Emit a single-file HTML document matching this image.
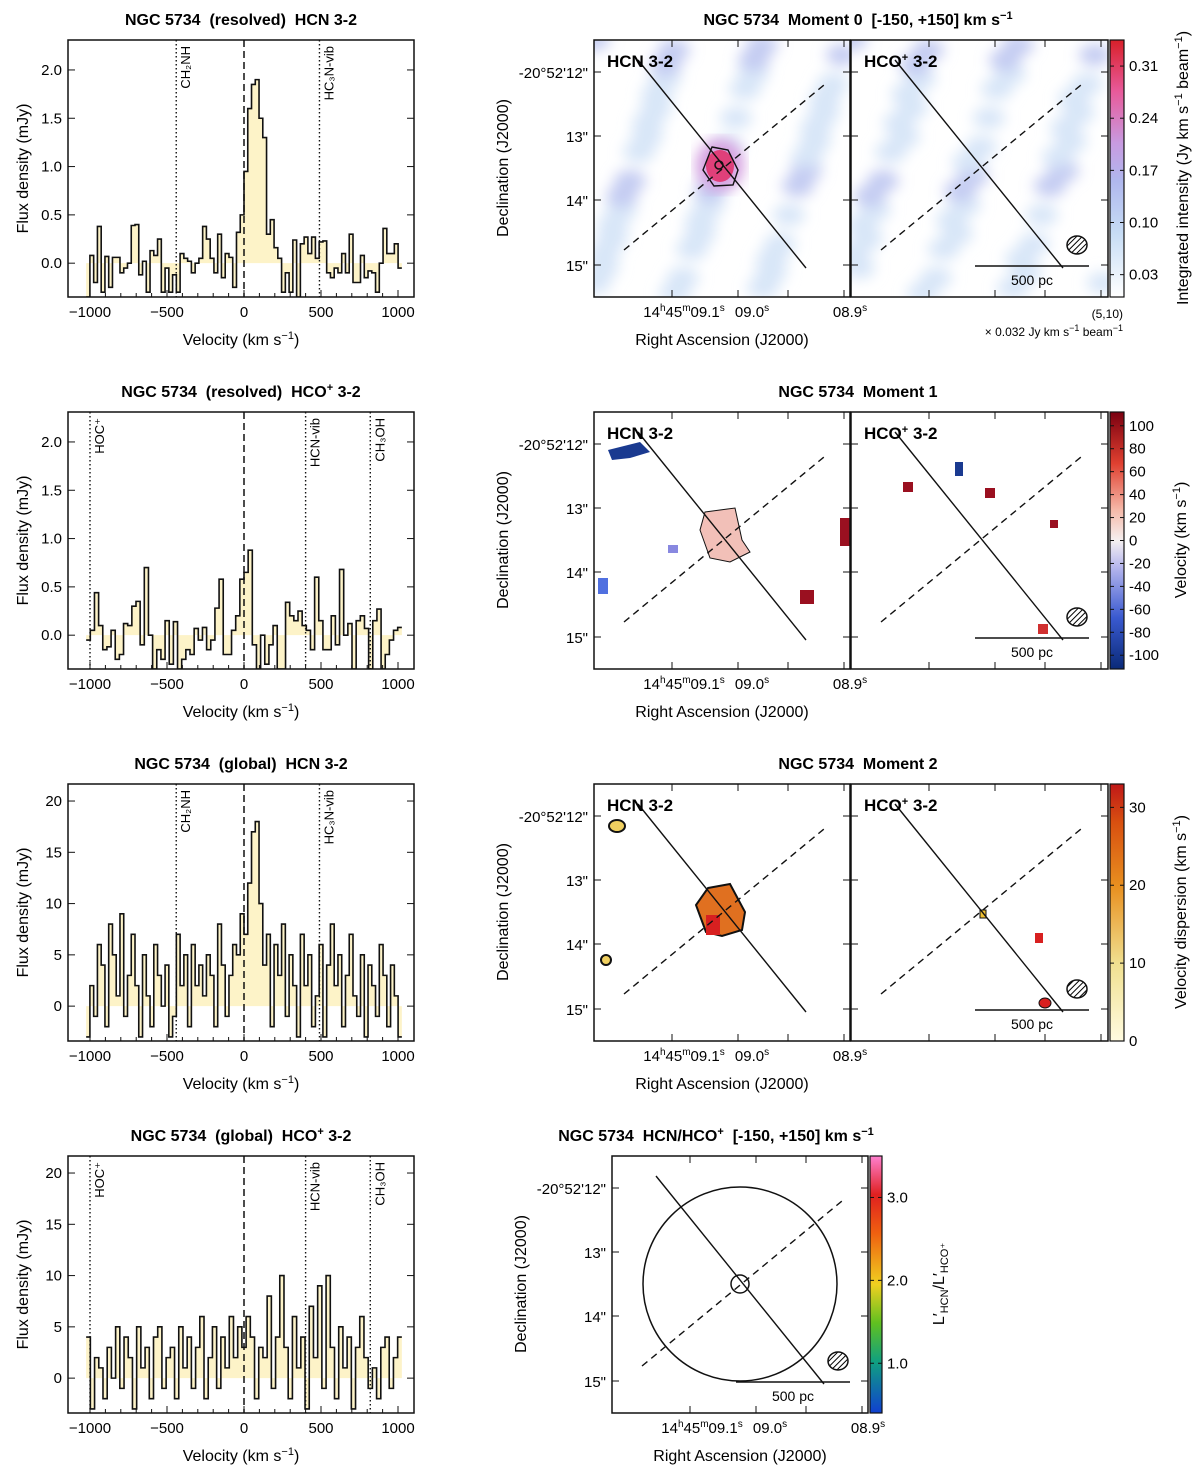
<!DOCTYPE html>
<html><head><meta charset="utf-8"><style>
body{margin:0;background:#fff}
svg{display:block;font-family:"Liberation Sans",sans-serif}
text{white-space:pre}
</style></head><body>
<svg id="fig" width="1200" height="1473" viewBox="0 0 1200 1473" xmlns="http://www.w3.org/2000/svg">
<defs>
<pattern id="hatch" width="4" height="4" patternUnits="userSpaceOnUse" patternTransform="rotate(45)"><rect width="4" height="4" fill="#fff"/><line x1="0" y1="0" x2="0" y2="4" stroke="#000" stroke-width="2"/></pattern>
<linearGradient id="g0" x1="0" y1="1" x2="0" y2="0"><stop offset="0" stop-color="#fff"/><stop offset="0.25" stop-color="#c6dcf5"/><stop offset="0.45" stop-color="#b0b8ee"/><stop offset="0.6" stop-color="#c89ae0"/><stop offset="0.8" stop-color="#e85a9a"/><stop offset="1" stop-color="#d8202a"/></linearGradient>
<linearGradient id="g1" x1="0" y1="1" x2="0" y2="0"><stop offset="0" stop-color="#0a2a78"/><stop offset="0.2" stop-color="#3a5ad0"/><stop offset="0.4" stop-color="#b8b8ee"/><stop offset="0.5" stop-color="#f5f0f0"/><stop offset="0.62" stop-color="#f5b8a8"/><stop offset="0.8" stop-color="#e04030"/><stop offset="1" stop-color="#7a0010"/></linearGradient>
<linearGradient id="g2" x1="0" y1="1" x2="0" y2="0"><stop offset="0" stop-color="#fffbe0"/><stop offset="0.3" stop-color="#f0e090"/><stop offset="0.6" stop-color="#e89020"/><stop offset="0.85" stop-color="#d85010"/><stop offset="1" stop-color="#c01818"/></linearGradient>
<linearGradient id="g3" x1="0" y1="1" x2="0" y2="0"><stop offset="0" stop-color="#1040d0"/><stop offset="0.2" stop-color="#10a080"/><stop offset="0.35" stop-color="#60c020"/><stop offset="0.5" stop-color="#f0d020"/><stop offset="0.7" stop-color="#f06010"/><stop offset="0.85" stop-color="#e02020"/><stop offset="1" stop-color="#ff80d0"/></linearGradient>
<filter id="blur"><feGaussianBlur stdDeviation="7"/></filter>
</defs>
</svg>
<script>
const specHCNres=[-0.35,0.08,-0.2,0.38,-0.3,0.07,-0.25,0.06,0.06,-0.1,-0.05,0.0,0.39,0.4,-0.12,0.02,-0.3,0.13,0.08,0.25,-0.3,-0.05,-0.3,-0.12,-0.3,0.1,0.05,0.02,-0.1,0.0,0.05,0.38,0.25,0.05,-0.1,0.3,-0.15,0.1,0.06,-0.25,0.32,0.5,0.95,1.6,1.85,1.9,1.5,1.3,0.3,0.45,0.16,0.05,-0.3,-0.1,-0.3,0.24,-0.35,0.2,0.27,0.1,0.27,0.05,0.22,0.23,-0.1,-0.15,-0.05,-0.1,0.1,-0.1,0.3,-0.2,-0.2,0.08,-0.15,-0.08,-0.1,-0.3,0.0,0.36,0.1,0.1,0.2,-0.05];
const specHCOres=[-0.05,0.05,0.44,0.1,-0.15,-0.12,0.05,-0.25,-0.2,0.12,0.1,0.3,0.35,-0.1,0.7,0.0,-0.35,-0.15,-0.25,0.15,-0.3,0.14,-0.35,-0.25,-0.15,-0.2,0.07,-0.05,0.08,-0.15,-0.05,0.28,0.58,-0.2,-0.2,0.05,0.2,0.58,0.65,0.88,-0.1,-0.35,0.0,-0.3,-0.1,0.1,-0.35,-0.35,0.34,0.2,0.15,0.25,0.1,0.05,-0.15,0.6,0.15,-0.15,-0.15,0.2,-0.1,0.68,0.0,0.12,-0.35,0.15,0.2,0.07,-0.35,0.15,0.27,-0.35,-0.2,-0.05,0.05,0.08];
const specHCNglob=[-3,2,-1,6,4,-2,8,5,1,9,-1,3,7,2,-3,5,1,-2,6,3,0,4,-3,-1,7,2,5,-2,6,2,4,1,5,3,-2,8,4,-1,3,6,5,9,7,12,17,18,10,4,7,-2,6,3,8,-1,5,2,-3,7,2,5,-2,1,6,-3,4,8,2,5,-2,3,7,1,-1,5,-3,4,2,-1,6,3,-2,4,1,-3];
const specHCOglob=[4,-3,2,1,-2,3,0,5,-1,4,2,-3,5,1,3,-2,4,5,-1,2,3,-2,5,1,4,-1,3,6,-2,2,5,-1,4,1,6,2,5,3,6,4,-2,3,2,8,-1,4,10,3,-2,6,1,4,-3,7,2,9,-1,10,3,-2,5,1,4,-3,3,6,2,-1,1,-2,3,4,-1,2,4];
const velTicks=[-1000,-500,0,500,1000];
const mapYTicks=["-20°52'12\"","13\"","14\"","15\""];
const mapXTicks=["14h45m09.1s","09.0s","08.9s"];
const cb0=[0.03,0.10,0.17,0.24,0.31];
const cb1=[100,80,60,40,20,0,-20,-40,-60,-80,-100];
const cb2=[0,10,20,30];
const cb3=[1.0,2.0,3.0];

const NS="http://www.w3.org/2000/svg";
const svg=document.getElementById('fig');
function E(tag,at,parent,txt){const e=document.createElementNS(NS,tag);for(const k in at)e.setAttribute(k,at[k]);if(txt!==undefined)e.textContent=txt;(parent||svg).appendChild(e);return e;}
const SUP=s=>`<tspan dy="-6" font-size="11">${s}</tspan>`;
const BACK=s=>`<tspan dy="6">${s}</tspan>`;

function spectrum(top,data,ymin,ymax,yticks,title,lines,name){
  const L=68,R=414,T=top,B=top+257;
  const g=E('g',{});
  
  
  const x=v=>90+(v+1000)*308/2000;
  const y=f=>B-(f-ymin)/(ymax-ymin)*(B-T);
  const v0=-1025,bw=2050/data.length;
  let pts=[];
  data.forEach((f,i)=>{pts.push([x(v0+i*bw),y(f)],[x(v0+(i+1)*bw),y(f)]);});
  let fill=`M${x(v0)},${y(0)} `+pts.map(p=>`L${p[0]},${p[1]}`).join(' ')+` L${x(v0+data.length*bw)},${y(0)}Z`;
  const cp=E('clipPath',{id:'c'+name},g);E('rect',{x:L,y:T,width:R-L,height:B-T},cp);
  const gc=E('g',{'clip-path':`url(#c${name})`},g);
  E('path',{d:fill,fill:'#fdf3c8',stroke:'none'},gc);
  E('path',{d:'M'+pts.map(p=>p.join(',')).join(' L'),fill:'none',stroke:'#111','stroke-width':1.6},gc);
  E('line',{x1:x(0),x2:x(0),y1:T,y2:B,stroke:'#111','stroke-width':1.5,'stroke-dasharray':'7,4'},g);
  lines.forEach(l=>{E('line',{x1:x(l[0]),x2:x(l[0]),y1:T,y2:B,stroke:'#111','stroke-width':1.4,'stroke-dasharray':'1.5,2.5'},g);
    E('text',{x:0,y:0,transform:`translate(${x(l[0])+14},${T+6}) rotate(-90)`,'font-size':13,'text-anchor':'end'},g,l[1]);});
  E('rect',{x:L,y:T,width:R-L,height:B-T,fill:'none',stroke:'#111','stroke-width':1.5},g);
  for(let v=-1000;v<=1000;v+=100){E('line',{x1:x(v),x2:x(v),y1:B,y2:B-(v%500==0?7:4),stroke:'#111'},g);}
  velTicks.forEach(v=>E('text',{x:x(v),y:B+20,'font-size':15,'text-anchor':'middle'},g,v<0?'\u2212'+(-v):v));
  yticks.forEach(t=>{E('line',{x1:L,x2:L+7,y1:y(t),y2:y(t),stroke:'#111'},g);E('line',{x1:R,x2:R-7,y1:y(t),y2:y(t),stroke:'#111'},g);
    E('text',{x:L-6,y:y(t)+5,'font-size':15,'text-anchor':'end'},g,t.toFixed(ymax>5?0:1));});
  const xl=E('text',{x:241,y:B+48,'font-size':16,'text-anchor':'middle'},g);xl.innerHTML='Velocity (km s'+SUP('−1')+BACK(')');
  E('text',{x:0,y:0,transform:`translate(28,${(T+B)/2}) rotate(-90)`,'font-size':16,'text-anchor':'middle'},g,'Flux density (mJy)');
  const tt=E('text',{x:241,y:T-15,'font-size':16,'font-weight':'bold','text-anchor':'middle'},g);tt.innerHTML=title;
}
spectrum(40,specHCNres,-0.35,2.31,[0,0.5,1,1.5,2],'NGC 5734  (resolved)  HCN 3-2',[[-440,'CH₂NH'],[490,'HC₃N-vib']],'spectrum-hcn-resolved');
spectrum(412,specHCOres,-0.35,2.31,[0,0.5,1,1.5,2],'NGC 5734  (resolved)  HCO'+SUP('+')+BACK(' 3-2'),[[-1000,'HOC⁺'],[400,'HCN-vib'],[820,'CH₃OH']],'spectrum-hco-resolved');
spectrum(784,specHCNglob,-3.4,21.66,[0,5,10,15,20],'NGC 5734  (global)  HCN 3-2',[[-440,'CH₂NH'],[490,'HC₃N-vib']],'spectrum-hcn-global');
spectrum(1156,specHCOglob,-3.4,21.66,[0,5,10,15,20],'NGC 5734  (global)  HCO'+SUP('+')+BACK(' 3-2'),[[-1000,'HOC⁺'],[400,'HCN-vib'],[820,'CH₃OH']],'spectrum-hco-global');

function xTickLabels(g,B,xs){
  const lab=[['14','h','45','m','09.1','s'],['09.0','s'],['08.9','s']];
  xs.forEach((xx,i)=>{const t=E('text',{x:xx,y:B+20,'font-size':15,'text-anchor':'middle'},g);
    const a=lab[i];let h='';
    for(let j=0;j<a.length;j+=2){h+=(j===0?a[j]:`<tspan dy="6">${a[j]}</tspan>`)+`<tspan dy="-6" font-size="10">${a[j+1]}</tspan>`;}
    t.innerHTML=h;});
}
function mapPanel(L,T,W,label,opts,name){
  const g=E('g',{});
  const cp=E('clipPath',{id:'c'+name},g);E('rect',{x:L,y:T,width:W,height:257},cp);
  const gc=E('g',{'clip-path':`url(#c${name})`},g);
  E('rect',{x:L,y:T,width:W,height:257,fill:'#fff'},gc);
  if(opts.bg){
    const gb=E('g',{filter:'url(#blur)'},gc);
    for(let i=0;i<46;i++){const px=L+((i*53)%W),py=T+((i*97)%257);E('ellipse',{cx:px,cy:py,rx:16,ry:11,fill:i%4==0?'#c4ccf2':'#d8e6f8'},gb);}
  }
  if(opts.draw)opts.draw(gc);
  const dx=L-594;
  E('line',{x1:638+dx,y1:60+T-40,x2:806+dx,y2:268+T-40,stroke:'#111','stroke-width':1.4},g);
  E('line',{x1:624+dx,y1:250+T-40,x2:824+dx,y2:85+T-40,stroke:'#111','stroke-width':1.4,'stroke-dasharray':'7,5'},g);
  E('rect',{x:L,y:T,width:W,height:257,fill:'none',stroke:'#111','stroke-width':1.5},g);
  [86,152,202,258].forEach(xx=>{E('line',{x1:L+xx-8,x2:L+xx-8,y1:T,y2:T+7,stroke:'#111'},g);E('line',{x1:L+xx-8,x2:L+xx-8,y1:T+257,y2:T+250,stroke:'#111'},g);});
  [32,96,160,225].forEach(yy=>{E('line',{x1:L,x2:L+7,y1:T+yy,y2:T+yy,stroke:'#111'},g);E('line',{x1:L+W,x2:L+W-7,y1:T+yy,y2:T+yy,stroke:'#111'},g);});
  if(label){const t=E('text',{x:L+13,y:T+27,'font-size':17,'font-weight':'bold'},g);t.innerHTML=label;}
  if(opts.beam){E('line',{x1:L+124,x2:L+238,y1:T+226,y2:T+226,stroke:'#111','stroke-width':1.5},g);
    E('text',{x:L+181,y:T+245,'font-size':14,'text-anchor':'middle'},g,'500 pc');
    E('ellipse',{cx:L+226,cy:T+205,rx:10,ry:9,fill:'url(#hatch)',stroke:'#111','stroke-width':1.5},g);}
  return g;
}
function axesLabels(T,xL,cxLabel){
  const g=E('g',{});
  mapYTicks.forEach((s,i)=>E('text',{x:xL-6,y:T+[32,96,160,225][i]+6,'font-size':15,'text-anchor':'end'},g,s));
  E('text',{x:0,y:0,transform:`translate(${xL-86},${T+128}) rotate(-90)`,'font-size':16,'text-anchor':'middle'},g,'Declination (J2000)');
  E('text',{x:cxLabel,y:T+305,'font-size':16,'text-anchor':'middle'},g,'Right Ascension (J2000)');
  xTickLabels(g,T+257,[xL+90,xL+158,xL+256]);
}
function colorbar(x,T,w,grad,ticks,vmin,vmax,label,name,fmt,off){
  const g=E('g',{});
  E('rect',{x:x,y:T,width:w,height:257,fill:`url(#${grad})`,stroke:'#111','stroke-width':1.2},g);
  ticks.forEach(t=>{const yy=T+257-(t-vmin)/(vmax-vmin)*257;E('line',{x1:x,x2:x+4,y1:yy,y2:yy,stroke:'#111'},g);E('line',{x1:x+w,x2:x+w-4,y1:yy,y2:yy,stroke:'#111'},g);
    E('text',{x:x+w+5,y:yy+5,'font-size':15},g,fmt(t));});
  const t=E('text',{x:0,y:0,transform:`translate(${x+w+off},${T+128}) rotate(-90)`,'font-size':16,'text-anchor':'middle'},g);t.innerHTML=label;
}
const HCO='HCO'+SUP('+')+BACK(' 3-2');
function title(x,y,html){const t=E('text',{x:x,y:y,'font-size':16,'font-weight':'bold','text-anchor':'middle'});t.innerHTML=html;}
// Moment 0
title(858,25,'NGC 5734  Moment 0  [-150, +150] km s'+SUP('−1'));
mapPanel(594,40,256,'HCN 3-2',{bg:1,draw:g=>{E('ellipse',{cx:720,cy:165,rx:24,ry:26,fill:'#d8a0e0',filter:'url(#blur)'},g);E('ellipse',{cx:720,cy:166,rx:14,ry:16,fill:'#e0407a'},g);E('path',{d:'M712,147 L728,150 L738,170 L733,185 L714,186 L703,170 Z',fill:'none',stroke:'#111','stroke-width':1.4},g);E('circle',{cx:719,cy:165,r:4,fill:'none',stroke:'#111','stroke-width':1.5},g);}},'moment0-hcn-map');
mapPanel(851,40,257,HCO,{bg:1,beam:1},'moment0-hco-map');
axesLabels(40,594,722);
colorbar(1110,40,14,'g0',cb0,0.0,0.345,'Integrated intensity (Jy km s'+SUP('−1')+BACK(' beam')+SUP('−1')+BACK(')'),'colorbar-moment0',t=>t.toFixed(2),64);
E('text',{x:1123,y:318,'font-size':12,'text-anchor':'end'},svg,'(5,10)');
{const t=E('text',{x:1123,y:336,'font-size':12,'text-anchor':'end'});t.innerHTML='× 0.032 Jy km s<tspan dy="-5" font-size="9">−1</tspan><tspan dy="5"> beam</tspan><tspan dy="-5" font-size="9">−1</tspan>';}
// Moment 1
title(858,397,'NGC 5734  Moment 1');
mapPanel(594,412,256,'HCN 3-2',{draw:g=>{E('path',{d:'M608,450 L640,442 L650,452 L630,458 L612,460 Z',fill:'#1a3a90'},g);E('path',{d:'M705,512 L735,508 L742,540 L750,552 L730,562 L710,558 L700,530 Z',fill:'#f2c0b8',stroke:'#111'},g);E('rect',{x:840,y:518,width:10,height:28,fill:'#9a1020'},g);E('rect',{x:800,y:590,width:14,height:14,fill:'#9a1020'},g);E('rect',{x:598,y:578,width:10,height:16,fill:'#5070e0'},g);E('rect',{x:668,y:545,width:10,height:8,fill:'#8888e0'},g);}},'moment1-hcn-map');
mapPanel(851,412,257,HCO,{beam:1,draw:g=>{E('rect',{x:955,y:462,width:8,height:14,fill:'#1a3a90'},g);E('rect',{x:903,y:482,width:10,height:10,fill:'#9a1020'},g);E('rect',{x:985,y:488,width:10,height:10,fill:'#9a1020'},g);E('rect',{x:1050,y:520,width:8,height:8,fill:'#9a1020'},g);E('rect',{x:1038,y:624,width:10,height:10,fill:'#d03030'},g);}},'moment1-hco-map');
axesLabels(412,594,722);
colorbar(1110,412,14,'g1',cb1,-112,112,'Velocity (km s'+SUP('−1')+BACK(')'),'colorbar-moment1',t=>String(t),62);
// Moment 2
title(858,769,'NGC 5734  Moment 2');
mapPanel(594,784,256,'HCN 3-2',{draw:g=>{E('path',{d:'M708,888 L730,884 L745,912 L742,930 L722,936 L706,932 L696,905 Z',fill:'#e07020',stroke:'#111','stroke-width':2},g);E('rect',{x:706,y:915,width:14,height:20,fill:'#d82020'},g);E('ellipse',{cx:617,cy:826,rx:8,ry:6,fill:'#f0d060',stroke:'#111','stroke-width':2},g);E('ellipse',{cx:606,cy:960,rx:5,ry:5,fill:'#f0d060',stroke:'#111','stroke-width':2},g);}},'moment2-hcn-map');
mapPanel(851,784,257,HCO,{beam:1,draw:g=>{E('rect',{x:980,y:910,width:6,height:8,fill:'#f0c030',stroke:'#111'},g);E('rect',{x:1035,y:933,width:8,height:10,fill:'#d82020'},g);E('ellipse',{cx:1045,cy:1003,rx:6,ry:5,fill:'#d82020',stroke:'#111'},g);}},'moment2-hco-map');
axesLabels(784,594,722);
colorbar(1110,784,14,'g2',cb2,0,33,'Velocity dispersion (km s'+SUP('−1')+BACK(')'),'colorbar-moment2',t=>String(t),62);
// Ratio
title(716,1141,'NGC 5734  HCN/HCO'+SUP('+')+BACK('  [-150, +150] km s')+SUP('−1'));
mapPanel(612,1156,256,null,{beam:1,draw:g=>{E('circle',{cx:740,cy:1284,r:97,fill:'none',stroke:'#111','stroke-width':1.5},g);E('circle',{cx:740,cy:1284,r:9,fill:'none',stroke:'#111','stroke-width':1.5},g);}},'ratio-map');
axesLabels(1156,612,740);
colorbar(870,1156,12,'g3',cb3,0.4,3.5,'L′<tspan dy="4" font-size="11">HCN</tspan><tspan dy="-4">/L′</tspan><tspan dy="4" font-size="11">HCO⁺</tspan>','colorbar-ratio',t=>t.toFixed(1),62);
</script>
</body></html>
